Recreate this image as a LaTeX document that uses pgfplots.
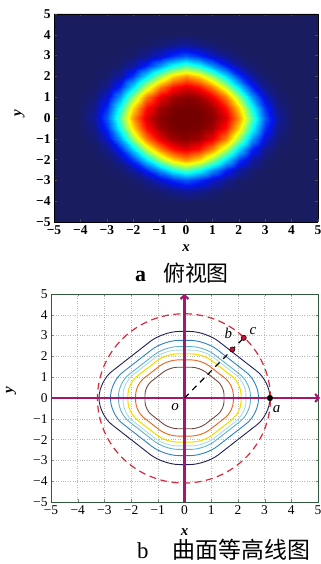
\documentclass[border=0pt]{standalone}
\usepackage{fontspec}
\setmainfont{Liberation Serif}
\newfontfamily\cjk{Noto Sans CJK SC}
\usepackage{pgfplots}
\pgfplotsset{compat=1.18}
\usetikzlibrary{arrows.meta}
\definecolor{jetlow}{rgb}{0.1,0.11,0.37}
\definecolor{framegreen}{HTML}{2F5A3E}
\definecolor{cnavy}{HTML}{1F2255}
\definecolor{cblue}{HTML}{2F80C0}
\definecolor{clight}{HTML}{5FB2CE}
\definecolor{cpale}{HTML}{A9DBE4}
\definecolor{cyellow}{HTML}{F5DE00}
\definecolor{corange}{HTML}{E8641A}
\definecolor{cbrown}{HTML}{6E4A3E}
\definecolor{cmag}{HTML}{A2186F}
\definecolor{cred}{HTML}{D42A3C}
\definecolor{cdot}{HTML}{CC1030}
\pgfplotsset{colormap={myjet}{rgb(0cm)=(0.1,0.11,0.37); rgb(1cm)=(0,0.08,0.95); rgb(3cm)=(0,1,1); rgb(5cm)=(1,1,0); rgb(7cm)=(1,0,0); rgb(8cm)=(0.45,0,0)}}
\begin{document}
\begin{tikzpicture}
\path[use as bounding box] (0,0) rectangle (321bp,564bp);
% ---------------- top: heat map -----------------
\begin{axis}[
  at={(54bp,342bp)}, anchor=south west, scale only axis,
  width=264bp, height=208bp,
  view={0}{90},
  xmin=-5, xmax=5, ymin=-5, ymax=5, enlargelimits=false,
  colormap name=myjet, point meta min=0, point meta max=1,
  axis background/.style={fill=jetlow},
  axis on top,
  axis line style={black, line width=0.6bp},
  xtick={-5,...,5}, ytick={-5,...,5},
  xticklabels={−5,−4,−3,−2,−1,0,1,2,3,4,5},
  yticklabels={−5,−4,−3,−2,−1,0,1,2,3,4,5},
  tick align=inside, major tick length=2.5bp,
  tick style={black!70},
  ticklabel style={font=\fontsize{13.5}{15}\selectfont\bfseries},
  xlabel={\textbf{\textit{x}}}, ylabel={\textbf{\textit{y}}},
  xlabel style={at={(axis description cs:0.5,-0.125)}, anchor=center, font=\fontsize{15}{16}\selectfont},
  ylabel style={at={(axis description cs:-0.13,0.524)}, anchor=center, font=\fontsize{15}{16}\selectfont},
]
\addplot3[surf, shader=interp, mesh/cols=17, mesh/rows=17] coordinates {
(-4,-4,0) (-3.5,-4,0) (-3,-4,0) (-2.5,-4,0) (-2,-4,0) (-1.5,-4,0) (-1,-4,0.001) (-0.5,-4,0.004) (0,-4,0.006) (0.5,-4,0.004) (1,-4,0.001) (1.5,-4,0) (2,-4,0) (2.5,-4,0) (3,-4,0) (3.5,-4,0) (4,-4,0)
(-4,-3.5,0) (-3.5,-3.5,0) (-3,-3.5,0) (-2.5,-3.5,0) (-2,-3.5,0.001) (-1.5,-3.5,0.005) (-1,-3.5,0.016) (-0.5,-3.5,0.035) (0,-3.5,0.05) (0.5,-3.5,0.035) (1,-3.5,0.016) (1.5,-3.5,0.005) (2,-3.5,0.001) (2.5,-3.5,0) (3,-3.5,0) (3.5,-3.5,0) (4,-3.5,0)
(-4,-3,0) (-3.5,-3,0) (-3,-3,0) (-2.5,-3,0.002) (-2,-3,0.01) (-1.5,-3,0.037) (-1,-3,0.09) (-0.5,-3,0.156) (0,-3,0.198) (0.5,-3,0.156) (1,-3,0.09) (1.5,-3,0.037) (2,-3,0.01) (2.5,-3,0.002) (3,-3,0) (3.5,-3,0) (4,-3,0)
(-4,-2.5,0) (-3.5,-2.5,0) (-3,-2.5,0.002) (-2.5,-2.5,0.012) (-2,-2.5,0.053) (-1.5,-2.5,0.143) (-1,-2.5,0.269) (-0.5,-2.5,0.392) (0,-2.5,0.458) (0.5,-2.5,0.392) (1,-2.5,0.269) (1.5,-2.5,0.143) (2,-2.5,0.053) (2.5,-2.5,0.012) (3,-2.5,0.002) (3.5,-2.5,0) (4,-2.5,0)
(-4,-2,0) (-3.5,-2,0.001) (-3,-2,0.01) (-2.5,-2,0.053) (-2,-2,0.164) (-1.5,-2,0.338) (-1,-2,0.521) (-0.5,-2,0.661) (0,-2,0.727) (0.5,-2,0.661) (1,-2,0.521) (1.5,-2,0.338) (2,-2,0.164) (2.5,-2,0.053) (3,-2,0.01) (3.5,-2,0.001) (4,-2,0)
(-4,-1.5,0) (-3.5,-1.5,0.005) (-3,-1.5,0.037) (-2.5,-1.5,0.143) (-2,-1.5,0.338) (-1.5,-1.5,0.564) (-1,-1.5,0.749) (-0.5,-1.5,0.86) (0,-1.5,0.904) (0.5,-1.5,0.86) (1,-1.5,0.749) (1.5,-1.5,0.564) (2,-1.5,0.338) (2.5,-1.5,0.143) (3,-1.5,0.037) (3.5,-1.5,0.005) (4,-1.5,0)
(-4,-1,0.001) (-3.5,-1,0.016) (-3,-1,0.09) (-2.5,-1,0.269) (-2,-1,0.521) (-1.5,-1,0.749) (-1,-1,0.893) (-0.5,-1,0.96) (0,-1,0.98) (0.5,-1,0.96) (1,-1,0.893) (1.5,-1,0.749) (2,-1,0.521) (2.5,-1,0.269) (3,-1,0.09) (3.5,-1,0.016) (4,-1,0.001)
(-4,-0.5,0.004) (-3.5,-0.5,0.035) (-3,-0.5,0.156) (-2.5,-0.5,0.392) (-2,-0.5,0.661) (-1.5,-0.5,0.86) (-1,-0.5,0.96) (-0.5,-0.5,0.993) (0,-0.5,0.999) (0.5,-0.5,0.993) (1,-0.5,0.96) (1.5,-0.5,0.86) (2,-0.5,0.661) (2.5,-0.5,0.392) (3,-0.5,0.156) (3.5,-0.5,0.035) (4,-0.5,0.004)
(-4,0,0.006) (-3.5,0,0.05) (-3,0,0.198) (-2.5,0,0.458) (-2,0,0.727) (-1.5,0,0.904) (-1,0,0.98) (-0.5,0,0.999) (0,0,1) (0.5,0,0.999) (1,0,0.98) (1.5,0,0.904) (2,0,0.727) (2.5,0,0.458) (3,0,0.198) (3.5,0,0.05) (4,0,0.006)
(-4,0.5,0.004) (-3.5,0.5,0.035) (-3,0.5,0.156) (-2.5,0.5,0.392) (-2,0.5,0.661) (-1.5,0.5,0.86) (-1,0.5,0.96) (-0.5,0.5,0.993) (0,0.5,0.999) (0.5,0.5,0.993) (1,0.5,0.96) (1.5,0.5,0.86) (2,0.5,0.661) (2.5,0.5,0.392) (3,0.5,0.156) (3.5,0.5,0.035) (4,0.5,0.004)
(-4,1,0.001) (-3.5,1,0.016) (-3,1,0.09) (-2.5,1,0.269) (-2,1,0.521) (-1.5,1,0.749) (-1,1,0.893) (-0.5,1,0.96) (0,1,0.98) (0.5,1,0.96) (1,1,0.893) (1.5,1,0.749) (2,1,0.521) (2.5,1,0.269) (3,1,0.09) (3.5,1,0.016) (4,1,0.001)
(-4,1.5,0) (-3.5,1.5,0.005) (-3,1.5,0.037) (-2.5,1.5,0.143) (-2,1.5,0.338) (-1.5,1.5,0.564) (-1,1.5,0.749) (-0.5,1.5,0.86) (0,1.5,0.904) (0.5,1.5,0.86) (1,1.5,0.749) (1.5,1.5,0.564) (2,1.5,0.338) (2.5,1.5,0.143) (3,1.5,0.037) (3.5,1.5,0.005) (4,1.5,0)
(-4,2,0) (-3.5,2,0.001) (-3,2,0.01) (-2.5,2,0.053) (-2,2,0.164) (-1.5,2,0.338) (-1,2,0.521) (-0.5,2,0.661) (0,2,0.727) (0.5,2,0.661) (1,2,0.521) (1.5,2,0.338) (2,2,0.164) (2.5,2,0.053) (3,2,0.01) (3.5,2,0.001) (4,2,0)
(-4,2.5,0) (-3.5,2.5,0) (-3,2.5,0.002) (-2.5,2.5,0.012) (-2,2.5,0.053) (-1.5,2.5,0.143) (-1,2.5,0.269) (-0.5,2.5,0.392) (0,2.5,0.458) (0.5,2.5,0.392) (1,2.5,0.269) (1.5,2.5,0.143) (2,2.5,0.053) (2.5,2.5,0.012) (3,2.5,0.002) (3.5,2.5,0) (4,2.5,0)
(-4,3,0) (-3.5,3,0) (-3,3,0) (-2.5,3,0.002) (-2,3,0.01) (-1.5,3,0.037) (-1,3,0.09) (-0.5,3,0.156) (0,3,0.198) (0.5,3,0.156) (1,3,0.09) (1.5,3,0.037) (2,3,0.01) (2.5,3,0.002) (3,3,0) (3.5,3,0) (4,3,0)
(-4,3.5,0) (-3.5,3.5,0) (-3,3.5,0) (-2.5,3.5,0) (-2,3.5,0.001) (-1.5,3.5,0.005) (-1,3.5,0.016) (-0.5,3.5,0.035) (0,3.5,0.05) (0.5,3.5,0.035) (1,3.5,0.016) (1.5,3.5,0.005) (2,3.5,0.001) (2.5,3.5,0) (3,3.5,0) (3.5,3.5,0) (4,3.5,0)
(-4,4,0) (-3.5,4,0) (-3,4,0) (-2.5,4,0) (-2,4,0) (-1.5,4,0) (-1,4,0.001) (-0.5,4,0.004) (0,4,0.006) (0.5,4,0.004) (1,4,0.001) (1.5,4,0) (2,4,0) (2.5,4,0) (3,4,0) (3.5,4,0) (4,4,0)
};
\end{axis}
% ---------------- bottom: contours -----------------
\begin{axis}[
  at={(51bp,62bp)}, anchor=south west, scale only axis,
  width=267bp, height=208bp,
  xmin=-5, xmax=5, ymin=-5, ymax=5, enlargelimits=false,
  clip=false,
  grid=major, grid style={dotted, black!28, line width=0.5bp},
  axis line style={framegreen, line width=0.8bp},
  tick style={framegreen!70},
  xtick={-5,...,5}, ytick={-5,...,5},
  xticklabels={−5,−4,−3,−2,−1,0,1,2,3,4,5},
  yticklabels={−5,−4,−3,−2,−1,0,1,2,3,4,5},
  tick align=inside, major tick length=2.5bp,
  ticklabel style={font=\fontsize{13.5}{15}\selectfont},
  xlabel={\textbf{\textit{x}}}, ylabel={\textbf{\textit{y}}},
  xlabel style={at={(axis description cs:0.5,-0.144)}, anchor=center, font=\fontsize{15}{16}\selectfont},
  ylabel style={at={(axis description cs:-0.15,0.538)}, anchor=center, font=\fontsize{15}{16}\selectfont},
]
\addplot[cnavy, line width=0.9bp, rounded corners=16bp] coordinates {(3.2,0)(3.2,0.8)(0.8,3.2)(-0.8,3.2)(-3.2,0.8)(-3.2,-0.8)(-0.8,-3.2)(0.8,-3.2)(3.2,-0.8)(3.2,0)};
\addplot[cblue, line width=0.9bp, rounded corners=15bp] coordinates {(2.77,0)(2.77,0.78)(0.78,2.77)(-0.78,2.77)(-2.77,0.78)(-2.77,-0.78)(-0.78,-2.77)(0.78,-2.77)(2.77,-0.78)(2.77,0)};
\addplot[clight, line width=0.9bp, rounded corners=13bp] coordinates {(2.47,0)(2.47,0.74)(0.74,2.47)(-0.74,2.47)(-2.47,0.74)(-2.47,-0.74)(-0.74,-2.47)(0.74,-2.47)(2.47,-0.74)(2.47,0)};
\addplot[cpale, line width=0.9bp, rounded corners=12bp] coordinates {(2.3,0)(2.3,0.74)(0.74,2.3)(-0.74,2.3)(-2.3,0.74)(-2.3,-0.74)(-0.74,-2.3)(0.74,-2.3)(2.3,-0.74)(2.3,0)};
\addplot[cyellow, line width=1.1bp, rounded corners=11bp] coordinates {(2.12,0)(2.12,0.7)(0.7,2.12)(-0.7,2.12)(-2.12,0.7)(-2.12,-0.7)(-0.7,-2.12)(0.7,-2.12)(2.12,-0.7)(2.12,0)};
\addplot[corange, line width=0.9bp, rounded corners=10bp] coordinates {(1.83,0)(1.83,0.64)(0.64,1.83)(-0.64,1.83)(-1.83,0.64)(-1.83,-0.64)(-0.64,-1.83)(0.64,-1.83)(1.83,-0.64)(1.83,0)};
\addplot[cbrown, line width=0.9bp, rounded corners=8bp] coordinates {(1.48,0)(1.48,0.56)(0.56,1.48)(-0.56,1.48)(-1.48,0.56)(-1.48,-0.56)(-0.56,-1.48)(0.56,-1.48)(1.48,-0.56)(1.48,0)};
\draw[cred, line width=1.2bp, dash pattern=on 7bp off 4.5bp] (axis cs:-0.02,-0.02) ellipse [x radius=3.24, y radius=4.07];
\addplot[cmag, line width=2.2bp, -{Straight Barb[length=3.5bp, width=8bp]}] coordinates {(-5,0) (5.08,0)};
\addplot[cmag, line width=2.2bp, -{Straight Barb[length=3.5bp, width=8bp]}] coordinates {(0,-5) (0,5)};
\addplot[black, line width=1.2bp, dash pattern=on 6bp off 5bp] coordinates {(0,0) (2.22,2.89)};
\addplot[only marks, mark=*, mark size=2.6bp, mark options={fill=cdot, draw=black, line width=0.5bp}] coordinates {(1.79,2.33) (2.22,2.89)};
\addplot[only marks, mark=*, mark size=2.8bp, mark options={fill=black, draw=black}] coordinates {(3.2,0)};
\node[font=\fontsize{15}{16}\selectfont\itshape] at (axis cs:-0.35,-0.42) {o};
\node[font=\fontsize{15}{16}\selectfont\itshape] at (axis cs:3.45,-0.52) {a};
\node[font=\fontsize{15}{16}\selectfont\itshape] at (axis cs:1.64,3.1) {b};
\node[font=\fontsize{15}{16}\selectfont\itshape] at (axis cs:2.56,3.2) {c};
\end{axis}
% captions
\node[anchor=west, font=\fontsize{22}{24}\selectfont, inner sep=0pt] at (135bp,291bp) {\textbf{a}\hspace{17bp}{\cjk 俯视图}};
\node[anchor=west, font=\fontsize{23}{25}\selectfont, inner sep=0pt] at (137bp,14bp) {b\hspace{24bp}{\cjk 曲面等高线图}};
\end{tikzpicture}
\end{document}
